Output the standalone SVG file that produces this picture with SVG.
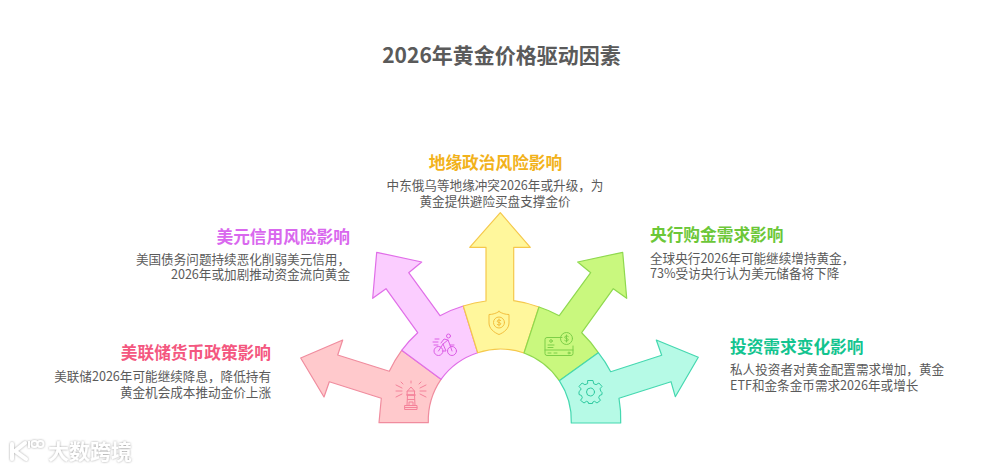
<svg xmlns="http://www.w3.org/2000/svg" width="1000" height="469" viewBox="0 0 1000 469">
<style>
text{font-family:"Noto Sans CJK SC","Noto Sans",sans-serif}
.t{font-size:21px;font-weight:700;fill:#5a5a5a;text-anchor:middle}
.h{font-size:16.7px;font-weight:700}
.b{font-size:12.6px;fill:#5a5a5a}
.e{text-anchor:end}.m{text-anchor:middle}
.a{stroke-width:1.2;stroke-linejoin:round}
.i{fill:none;stroke-width:1;stroke-linecap:round;stroke-linejoin:round}
.wm{font-size:21px;font-weight:700;fill:#fff}
</style>
<defs><filter id="s" x="-20%" y="-30%" width="140%" height="160%"><feDropShadow dx="0" dy="0" stdDeviation="1.300" flood-color="#888" flood-opacity=".8"/></filter></defs>
<rect width="1000" height="469" fill="#fff"/>
<text class="t" x="501.500" y="63">2026年黄金价格驱动因素</text>

<g id="connectors"></g>

<g id="node-fed">
<path class="a" fill="#ffc9cc" stroke="#f08c9e" d="M379 422.7L381.3 398.3L329.3 381.7L324 397L300.7 358L342.7 340L337.7 355L389.3 371.3A122 122 0 0 1 401.7 350.3L441 379.3A73 73 0 0 0 428.3 422.7Z"/>
<g class="i" stroke="#f4829a" transform="translate(411 392)">
<path d="M-6 13.5H6V17.5H-6ZM-4 13.5L-3.5 3H3.5L4 13.5M-4.5 3H4.5M-3.5 -1H3.5V3H-3.5ZM-3.5 -1L0 -5L3.5 -1M-3.5 7.5H3.5M-6 15.5H6M-2 13.5V10H2V13.5"/>
<path d="M-9 -4L-15 -7M-9 -1H-15M-9 2L-15 5M9 -4L15 -7M9 -1H15M9 2L15 5M-10 -10L-8 -8M10 -10L8 -8M0 -11V-9"/>
</g>
<text class="h e" x="271" y="359" fill="#f4577f">美联储货币政策影响</text>
<text class="b e" x="271" y="381">美联储2026年可能继续降息，降低持有</text>
<text class="b e" x="271" y="396.500">黄金机会成本推动金价上涨</text>
</g>

<g id="node-credit">
<path class="a" fill="#fbcdff" stroke="#e06ee8" d="M441 379.3L401.7 350.3A122 122 0 0 1 417.7 332.7L386 288.7L372.7 298.3L376.7 252.3L421.7 262L408.7 272.7L440 315.7A122 122 0 0 1 463.3 306L477.7 352.7A73 73 0 0 0 441 379.3Z"/>
<g class="i" stroke="#dc5fe6" transform="translate(445 345)">
<circle cx="-6.500" cy="6" r="4.500"/><circle cx="7" cy="6" r="4.500"/>
<circle cx="3.500" cy="-9" r="2"/>
<path d="M-6.500 6L-2 -1L3 -5L5 0L7 6M-2 -1L1 6H-1M3 -5L-1 -6L-4 -2M5 0H9M-10 -6H-6M-12 -3H-7M-11 0H-7"/>
</g>
<text class="h e" x="350" y="243" fill="#d968ee">美元信用风险影响</text>
<text class="b e" x="350" y="263.500">美国债务问题持续恶化削弱美元信用，</text>
<text class="b e" x="350" y="279">2026年或加剧推动资金流向黄金</text>
</g>

<g id="node-geo">
<path class="a" fill="#fff79c" stroke="#f5c84c" d="M463.3 306A122 122 0 0 1 486 301L486 247.300H469.700L500.300 212.700L530.300 247.300H513.700L513.700 300.700A122 122 0 0 1 539 307L524 353A73 73 0 0 0 477.700 352.700Z"/>
<g class="i" stroke="#f3bf3e" transform="translate(499 323)">
<path d="M0 -11.500C3 -9.500 6.500 -8.500 10 -8.500V0C10 5.500 5 9.500 0 11.500C-5 9.500 -10 5.500 -10 0V-8.500C-6.500 -8.500 -3 -9.500 0 -11.500Z"/>
<circle cx="0" cy="-0.500" r="5.500"/>
<path d="M1.800 -2.500C1 -3.300 -1.800 -3.300 -1.800 -1.800C-1.800 0 1.800 -1 1.800 0.800C1.800 2.300 -1 2.300 -1.800 1.500M0 -4V3"/>
</g>
<text class="h m" x="495.500" y="169" fill="#f2b21b">地缘政治风险影响</text>
<text class="b m" x="495" y="190">中东俄乌等地缘冲突2026年或升级，为</text>
<text class="b m" x="495" y="205.500">黄金提供避险买盘支撑金价</text>
</g>

<g id="node-cb">
<path class="a" fill="#c9f87e" stroke="#8fd94f" d="M539 307A122 122 0 0 1 559.300 315.700L590.700 272.700L577.700 262L622.700 252.300L626.700 298.300L613.300 288.700L581.700 332.700A122 122 0 0 1 598.300 352.700L559.300 380.700A73 73 0 0 0 524 353Z"/>
<g class="i" stroke="#7dcf48" transform="translate(559 346)">
<path d="M3 -8.500H-12A2 2 0 0 0 -14 -6.500V7.500A2 2 0 0 0 -12 9.500H12A2 2 0 0 0 14 7.500V0"/>
<circle cx="7.500" cy="-7.500" r="6"/>
<path d="M9.300 -9.500C8.500 -10.300 5.700 -10.300 5.700 -8.800C5.700 -7 9.300 -8 9.300 -6.200C9.300 -4.700 6.500 -4.700 5.700 -5.500M7.500 -11V-4"/>
<circle cx="-8" cy="-5" r="1.300"/><path d="M-11 -1H-5M-11 1.500H-6M-14 4H14M-11 7H-8M-5 7H-2"/><circle cx="10" cy="7" r="1"/>
</g>
<text class="h" x="650" y="241" fill="#6cc738">央行购金需求影响</text>
<text class="b" x="650" y="263">全球央行2026年可能继续增持黄金，</text>
<text class="b" x="650" y="278">73%受访央行认为美元储备将下降</text>
</g>

<g id="node-invest">
<path class="a" fill="#b6fae6" stroke="#45d8b0" d="M559.300 380.700L598.300 352.700A122 122 0 0 1 610.700 371.700L661.700 355.300L656.300 340L698.300 357.300L675.300 396.700L671 381.700L619 398.300A122 122 0 0 1 620.700 423H571.300A73 73 0 0 0 559.300 380.700Z"/>
<g class="i" stroke="#2fcaa0" transform="translate(590.500 392)">
<circle r="4"/>
<path d="M-2.500 -11.500H2.500L3.200 -8.300L5.600 -7.300L8.400 -9L11.500 -5.600L9.500 -3.200L10.300 -0.800L11.500 0.500V2.500L9 3.500L8.200 5.800L10 8.300L6.500 11L4 9.300L2.300 10L2 11.500H-2L-2.300 10L-4 9.300L-6.500 11L-10 8.300L-8.200 5.800L-9 3.500L-11.500 2.500V-0.500L-9.800 -2L-9.500 -3.200L-11.500 -5.600L-8.400 -9L-5.600 -7.300L-3.200 -8.300Z"/>
</g>
<text class="h" x="730" y="353" fill="#13c48f">投资需求变化影响</text>
<text class="b" x="730" y="374">私人投资者对黄金配置需求增加，黄金</text>
<text class="b" x="730" y="390">ETF和金条金币需求2026年或增长</text>
</g>

<g id="watermark" filter="url(#s)">
<path d="M12 444V459M25 443L15 451L26 459" fill="none" stroke="#fff" stroke-width="4" stroke-linecap="round" stroke-linejoin="round"/>
<path d="M29 441V448" fill="none" stroke="#fff" stroke-width="2"/>
<circle cx="34.500" cy="444" r="3" fill="none" stroke="#fff" stroke-width="1.800"/>
<circle cx="40.500" cy="444" r="3" fill="none" stroke="#fff" stroke-width="1.800"/>
<text class="wm" x="48" y="459">大数跨境</text>
</g>
</svg>
